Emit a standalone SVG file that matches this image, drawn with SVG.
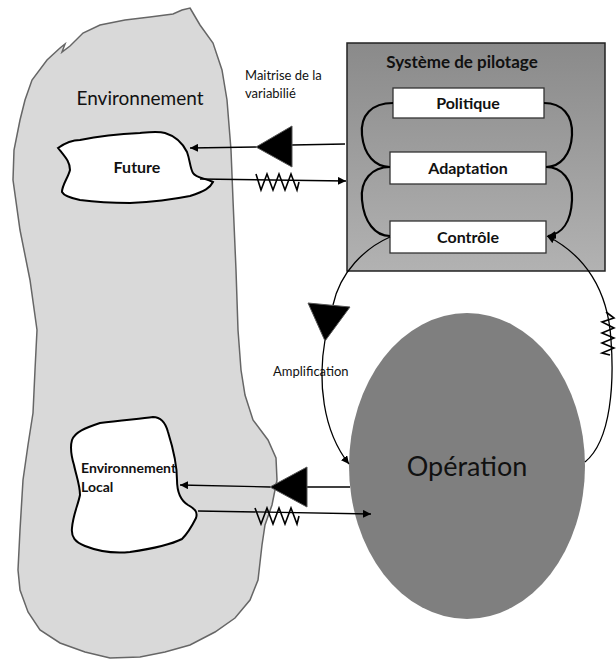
<svg xmlns="http://www.w3.org/2000/svg" width="616" height="659" viewBox="0 0 616 659">
<style>
.t{font-family:Lato,"Open Sans","Liberation Sans",sans-serif;fill:#111}
.b{font-weight:bold}
.blob{fill:#fff;stroke:#000;stroke-width:2}
.ln{fill:none;stroke:#000;stroke-width:1.3}
.thick{fill:none;stroke:#000;stroke-width:2.2}
.box{fill:#fff;stroke:#333;stroke-width:1.3}
.tri{fill:#000;stroke:#555;stroke-width:1}
.zz{fill:none;stroke:#000;stroke-width:1.6}
</style>
<defs>
<marker id="ah" viewBox="0 0 10 10" refX="10" refY="5" markerWidth="8" markerHeight="8" markerUnits="userSpaceOnUse" orient="auto">
<path d="M0,0 L10,5 L0,10 z" fill="#000"/>
</marker>
<linearGradient id="g" x1="0" y1="0" x2="0" y2="1">
<stop offset="0" stop-color="#8a8a8a"/>
<stop offset="1" stop-color="#b2b2b2"/>
</linearGradient>
</defs>
<g id="environnement">
<path d="M190,8 L200,25 L213,43 L222,70 L227,100 L231,150 L233,200 L236,270 L238,330 L241,370 L245,395 L253,420 L268,440 L276,458 L277,480 L272,505 L265,525 L262,545 L258,580 L250,600 L235,618 L215,632 L190,645 L165,652 L140,657 L110,658 L85,652 L60,643 L40,630 L28,612 L20,590 L18,570 L20,530 L23,480 L28,445 L33,413 L35,370 L37,330 L30,280 L20,230 L13,180 L14,150 L20,120 L25,100 L32,80 L47,60 L60,48 L65,44 L62,52 L70,46 L83,33 L100,25 L125,20 L150,17 L173,14 L182,10 Z" fill="#d9d9d9" stroke="#666" stroke-width="1.5"/>
<text class="t" x="140" y="105" font-size="19" text-anchor="middle" fill="#222">Environnement</text>
</g>
<g id="future">
<path class="blob" d="M58,148 C65,143 72,140 80,140 C100,136 120,134 140,133 C150,132 158,131 165,133 C175,136 182,142 187,152 C190,160 190,168 193,173 C196,178 205,178 213,182 C210,188 205,191 190,196 C170,200 150,202 130,203 C110,203 95,202 80,200 C70,198 64,196 62,192 C62,185 68,178 70,170 C70,162 66,158 58,148 Z"/>
<text class="t b" x="137" y="173" font-size="16" text-anchor="middle">Future</text>
</g>
<g id="env-local">
<path class="blob" d="M72,440 C75,432 85,428 100,423 C120,420 140,419 153,417 C160,417 165,421 168,432 C173,448 177,465 177,480 C177,492 180,500 188,505 C195,509 198,512 196,518 C192,526 188,533 182,539 C170,545 150,549 130,552 C110,554 95,550 85,546 C75,542 71,537 72,528 C73,515 78,505 80,495 C80,485 76,475 74,465 C71,455 70,447 72,440 Z"/>
<text class="t b" x="81" y="473" font-size="14">Environnement</text>
<text class="t b" x="81" y="492" font-size="14">Local</text>
</g>
<g id="systeme-pilotage">
<rect x="347" y="43" width="258" height="228" fill="url(#g)" stroke="#222" stroke-width="1.5"/>
<text class="t b" x="462" y="68" font-size="17" text-anchor="middle">Système de pilotage</text>
</g>
<g id="politique">
<rect class="box" x="393" y="88" width="151" height="30"/>
<text class="t b" x="468" y="109" font-size="16" text-anchor="middle">Politique</text>
</g>
<g id="adaptation">
<rect class="box" x="390" y="152" width="156" height="32"/>
<text class="t b" x="468" y="174" font-size="16" text-anchor="middle">Adaptation</text>
</g>
<g id="controle">
<rect class="box" x="390" y="221" width="156" height="32"/>
<text class="t b" x="468" y="243" font-size="16" text-anchor="middle">Contrôle</text>
</g>
<g id="operation">
<ellipse cx="467" cy="466" rx="118" ry="153" fill="#7f7f7f"/>
<text class="t" x="467" y="476" font-size="27" text-anchor="middle" fill="#111">Opération</text>
</g>
<g id="labels">
<text class="t" x="245" y="80" font-size="13" fill="#222">Maitrise de la</text>
<text class="t" x="245" y="98" font-size="13" fill="#222">variabilié</text>
<text class="t" x="273" y="376" font-size="13" fill="#222">Amplification</text>
</g>
<g id="connectors">
<path class="thick" d="M393,103 C372,103 360,115 362,135 C364,155 375,167 390,167"/>
<path class="thick" d="M390,167 C372,167 360,180 362,200 C364,222 375,236 390,236"/>
<path class="thick" d="M544,103 C562,103 573,115 572,135 C571,155 560,167 546,167"/>
<path class="thick" d="M546,167 C562,167 573,180 572,200 C571,222 562,234 548,236" marker-end="url(#ah)"/>
<path class="ln" d="M345,144 L292,145"/>
<path class="ln" d="M256,147 L190,148" marker-end="url(#ah)"/>
<polygon class="tri" points="256,147 292,126 292,167"/>
<path class="ln" d="M200,179 L346,181" marker-end="url(#ah)"/>
<polyline class="zz" points="256,174 261,190 267,174 273,190 279,174 285,190 291,174 297,190 299,182"/>
<path class="ln" d="M350,487 L307,487"/>
<path class="ln" d="M270,487 L180,485" marker-end="url(#ah)"/>
<polygon class="tri" points="270,487 307,467 307,507"/>
<path class="ln" d="M198,511 L371,514" marker-end="url(#ah)"/>
<polyline class="zz" points="255,508 261,524 267,508 273,524 279,508 285,524 291,508 297,524 299,516"/>
<path class="ln" d="M390,237 C365,248 340,272 333,305"/>
<path class="ln" d="M325,340 C318,380 322,430 349,464" marker-end="url(#ah)"/>
<polygon class="tri" points="308,303 350,307 325,341"/>
<path class="ln" d="M585,462 C612,440 614,380 611,340 C608,290 585,255 547,236" marker-end="url(#ah)"/>
<polyline class="zz" points="606,312 614,318 602,322 614,328 602,333 614,338 602,343 614,348 602,353 610,355"/>
</g>
</svg>
